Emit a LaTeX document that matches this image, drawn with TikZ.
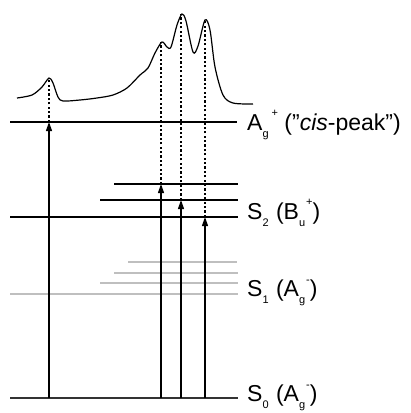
\documentclass[tikz,border=0pt]{standalone}
\usepackage{fontspec}
\setmainfont{Liberation Sans}
\usetikzlibrary{arrows.meta}
\newcommand{\lsub}[1]{\raisebox{-0.3em}{\fontsize{11}{11}\selectfont #1}}
\newcommand{\lsup}[1]{\raisebox{0.6em}{\fontsize{11}{11}\selectfont #1}}
\begin{document}
\begin{tikzpicture}[x=1pt,y=-1pt,
  level/.style={line width=1.2pt,black},
  glevel/.style={line width=1.2pt,black!25},
  ground/.style={line width=1.8pt,black!80},
  exc/.style={line width=1.2pt,-{Triangle[length=9pt,width=6pt]}},
  peakline/.style={line width=1.2pt,dash pattern=on 2.2pt off 2.2pt},
  spec/.style={line width=1.2pt,black},
  lbl/.style={anchor=west,inner sep=0pt,font=\fontsize{23}{26}\selectfont}]
\useasboundingbox (0,0) rectangle (411,413);
% level end points
\coordinate (aL) at (10,122);  \coordinate (aR) at (237,122);
\coordinate (u1L) at (114,184); \coordinate (u1R) at (238,184);
\coordinate (u2L) at (100,200); \coordinate (u2R) at (238,200);
\coordinate (s2L) at (10,217); \coordinate (s2R) at (238,217);
\coordinate (g1L) at (128,262); \coordinate (g1R) at (237,262);
\coordinate (g2L) at (114,273); \coordinate (g2R) at (238,273);
\coordinate (g3L) at (100,283); \coordinate (g3R) at (238,283);
\coordinate (s1L) at (10,294); \coordinate (s1R) at (238,294);
\coordinate (s0L) at (10,398); \coordinate (s0R) at (238,398);
% levels
\draw[level] (aL) -- (aR);
\draw[level] (u1L) -- (u1R);
\draw[level] (u2L) -- (u2R);
\draw[level] (s2L) -- (s2R);
\draw[glevel] (g1L) -- (g1R);
\draw[glevel] (g2L) -- (g2R);
\draw[glevel] (g3L) -- (g3R);
\draw[glevel] (s1L) -- (s1R);
\draw[ground] (s0L) -- (s0R);
% spectrum
\draw[spec] plot[smooth,tension=0.5] coordinates {
 (17,98) (32,95) (42,87) (49,78) (53,83) (58,97) (63,101) (80,100) (97,98)
 (113,95) (127,88) (140,75) (148,68) (155,53) (162,42) (167,47) (171,47)
 (177,25) (182,14) (186,21) (193,52) (198,46) (205,20) (210,30) (215,67)
 (223,95) (233,103) (253,104)};
% transition feet and peaks
\coordinate (f1) at (49,398); \coordinate (t1) at (49,122); \coordinate (p1) at (49,78);
\coordinate (f2) at (161,398); \coordinate (t2) at (161,184); \coordinate (p2) at (161,42);
\coordinate (f3) at (181,398); \coordinate (t3) at (181,200); \coordinate (p3) at (181,14);
\coordinate (f4) at (205,398); \coordinate (t4) at (205,217); \coordinate (p4) at (205,20);
\draw[exc] (f1) -- (t1);
\draw[exc] (f2) -- (t2);
\draw[exc] (f3) -- (t3);
\draw[exc] (f4) -- (t4);
\draw[peakline] (t1) -- (p1);
\draw[peakline] (t2) -- (p2);
\draw[peakline] (t3) -- (p3);
\draw[peakline] (t4) -- (p4);
% labels
\node[lbl] (la) at (247,125) {A\lsub{g}\hspace{3pt}\lsup{+} ("\textit{cis}-peak")};
\node[lbl] (l2) at (247,213) {S\lsub{2}\hspace{1pt} (B\lsub{u}\hspace{1pt}\lsup{+})};
\node[lbl] (l1) at (247,293) {S\lsub{1}\hspace{1pt} (A\lsub{g}\hspace{1pt}\lsup{-})};
\node[lbl] (l0) at (247,398) {S\lsub{0}\hspace{1pt} (A\lsub{g}\hspace{1pt}\lsup{-})};
\end{tikzpicture}
\end{document}
